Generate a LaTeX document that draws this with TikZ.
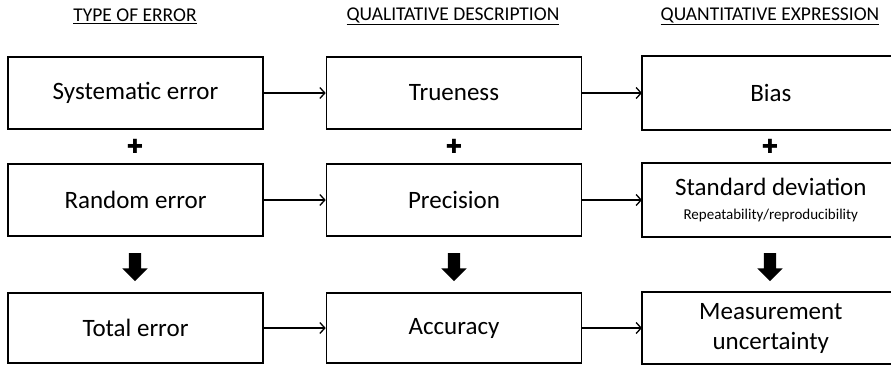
\documentclass[tikz,border=0pt]{standalone}
\usepackage{fontspec}
\setmainfont{Carlito}
\newfontfamily\symfont{DejaVu Sans}
\usetikzlibrary{arrows.meta,shapes.arrows}

\begin{document}
\begin{tikzpicture}[x=1pt, y=-1pt,
  box/.style = {draw, line width=1.6pt, minimum width=255pt, minimum height=72pt, align=center, inner sep=0pt, font=\fontsize{25}{30}\selectfont},
  rbox/.style = {box, draw=none, minimum width=256pt, anchor=west},
  frame/.style = {line width=1.6pt},
  head/.style = {font=\fontsize{19.5}{22}\selectfont},
  link/.style = {-{Straight Barb[length=5pt,width=11pt,line width=1.3pt]}, line width=1.3pt},
  plus/.style = {inner sep=0pt, font=\symfont\fontsize{19.5}{19.5}\selectfont},
  down/.style = {single arrow, fill=black, rotate=-90, inner sep=6pt, minimum width=25pt, minimum height=28pt, single arrow head extend=6.5pt}]
	\useasboundingbox (0,0) rectangle (891,364);
	\node[head] (h1) at (135,16) {\underline{TYPE OF ERROR}};
	\node[head] (h2) at (453,16) {\underline{QUALITATIVE DESCRIPTION}};
	\node[head] (h3) at (770,16) {\underline{QUANTITATIVE EXPRESSION}};
	\node[box] (sys) at (135.5,93) {Systematic error};
	\node[box] (tru) at (454,93) {Trueness};
	\node[rbox] (bias) at (642,93) {Bias};
	\node[box] (rnd) at (135.5,200) {Random error};
	\node[box] (pre) at (454,200) {Precision};
	\node[rbox] (sd) at (642,200) {Standard deviation\\[-6pt]{\fontsize{15}{17}\selectfont Repeatability/reproducibility}};
	\node[box, minimum height=70pt] (tot) at (135.5,328) {Total error};
	\node[box, minimum height=70pt] (acc) at (454,328) {Accuracy};
	\node[rbox, minimum height=70pt] (mu) at (642,328) {Measurement\\uncertainty};
	\foreach \n in {bias,sd,mu}
	    \draw[frame] (\n.north west) ++(249,0) -- (\n.north west) -- (\n.south west) -- ++(249,0);
	\node[plus] (p1) at (135,146) {✚};
	\node[plus] (p2) at (454,146) {✚};
	\node[plus] (p3) at (770,146) {✚};
	\node[down] (d1) at (135,264) {};
	\node[down] (d2) at (454,264) {};
	\node[down] (d3) at (770,264) {};
	\draw[link] (sys) -- (tru);
	\draw[link] (tru) -- (bias);
	\draw[link] (rnd) -- (pre);
	\draw[link] (pre) -- (sd);
	\draw[link] (tot) -- (acc);
	\draw[link] (acc) -- (mu);
\end{tikzpicture}
\end{document}
